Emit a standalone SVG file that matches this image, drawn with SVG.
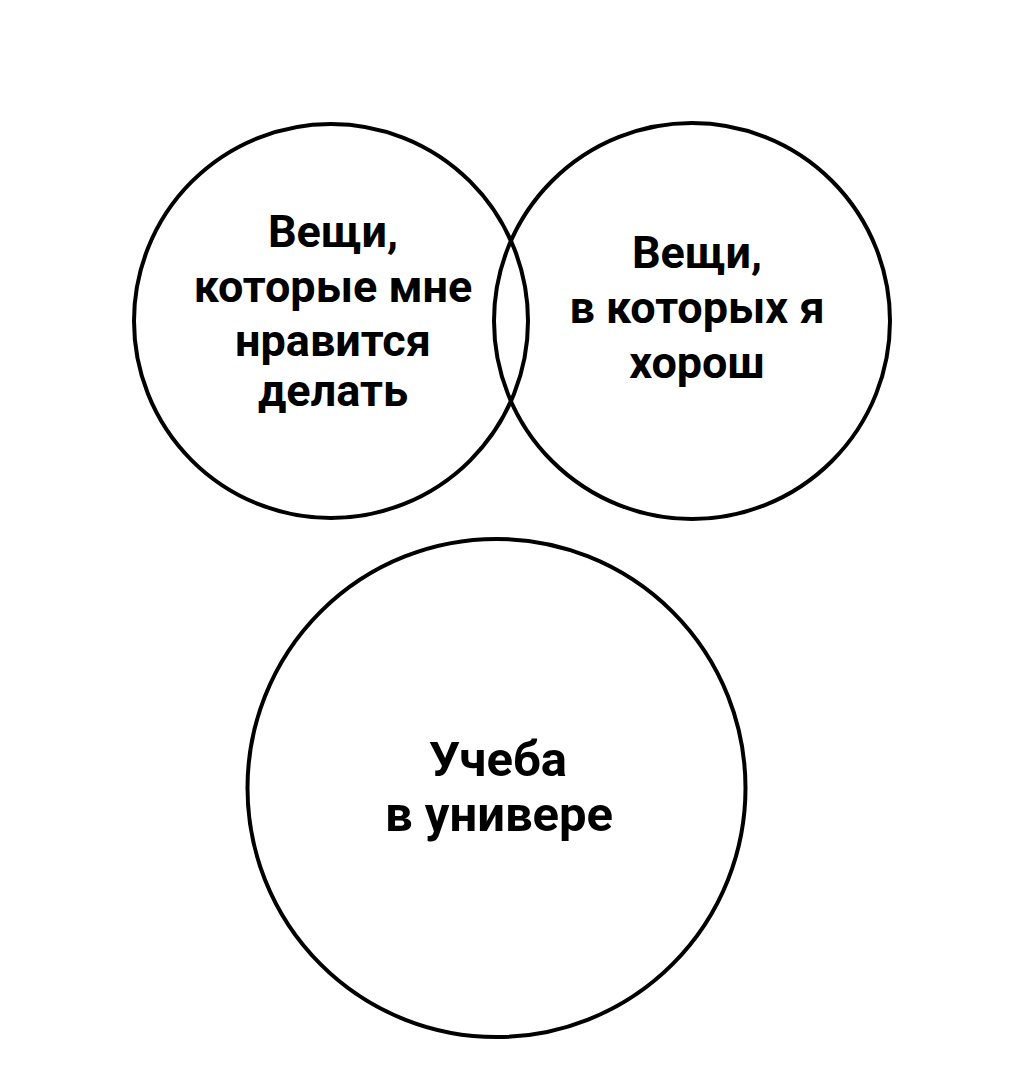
<svg xmlns="http://www.w3.org/2000/svg" width="1023" height="1080" viewBox="0 0 1023 1080">
<style>
.c{fill:none;stroke:#000;stroke-width:4}
.t{font-family:Roboto,"Liberation Sans",sans-serif;font-weight:bold;font-size:45px;fill:#000;text-anchor:middle}
.b{font-size:49px}
</style>
<rect width="1023" height="1080" fill="#fff"/>
<g id="connectors"></g>
<g id="node-like">
<circle class="c" cx="331" cy="321" r="197"/>
<text class="t"><tspan x="333" y="247">Вещи,</tspan><tspan x="333" y="302">которые мне</tspan><tspan x="333" y="356">нравится</tspan><tspan x="333" y="406">делать</tspan></text>
</g>
<g id="node-good">
<circle class="c" cx="692" cy="321" r="198"/>
<text class="t"><tspan x="697" y="268">Вещи,</tspan><tspan x="697" y="323">в которых я</tspan><tspan x="697" y="378">хорош</tspan></text>
</g>
<g id="node-uni">
<circle class="c" cx="496.5" cy="788" r="249"/>
<text class="t b"><tspan x="498" y="776">Учеба</tspan><tspan x="499" y="831">в универе</tspan></text>
</g>
</svg>
